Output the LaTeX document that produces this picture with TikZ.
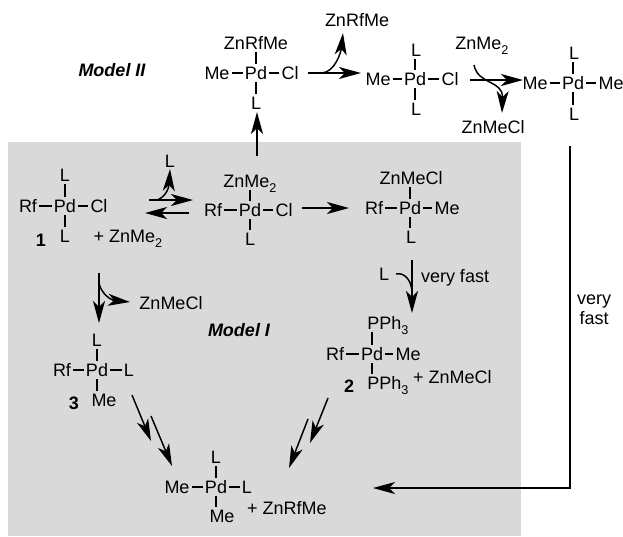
\documentclass[tikz,border=0pt]{standalone}
\usepackage{fontspec}
\setmainfont{Liberation Sans}
\usetikzlibrary{arrows.meta}
\newcommand\lsub[1]{\raisebox{-.3em}{\fontsize{9.5pt}{10pt}\selectfont #1}}
\newcommand\bonds[1]{%
  \draw[bond] (#1l) -- (#1);
  \draw[bond] (#1) -- (#1r);
  \draw[bond] (#1.north) -- (#1.north |- #1t.south);
  \draw[bond] (#1.south) -- (#1.south |- #1b.north);
}
\tikzset{
  atom/.style={inner xsep=1.7pt,inner ysep=2pt,outer sep=0pt,font=\fontsize{13.5pt}{15pt}\selectfont,text height=9.7pt,text depth=0pt},
  txt/.style={atom,inner sep=0pt},
  tagnum/.style={txt,font=\fontsize{13.5pt}{15pt}\selectfont\bfseries},
  modelname/.style={txt,font=\fontsize{13.5pt}{15pt}\selectfont\bfseries\itshape},
  bond/.style={line width=1.2pt},
  rxnline/.style={line width=1.1pt},
  rxn/.style={rxnline,-{Stealth[length=16.5pt,width=9pt,inset=4.5pt]}},
  panel/.style={fill=shade,draw=none}
}
\definecolor{shade}{HTML}{D9D9D9}
\begin{document}
\begin{tikzpicture}[x=0.75pt,y=-0.75pt]
\useasboundingbox (0,0) rectangle (623,536);
\fill[white] (0,0) rectangle (623,536);
\path[panel] (8,142) rectangle (521,536);

% complex 1
\node[atom] (a) at (65,206) {Pd};
\node[atom] (al) at (28,206) {Rf};
\node[atom] (ar) at (99,206) {Cl};
\node[atom] (at) at (65,175) {L};
\node[atom] (ab) at (65,236) {L};
\bonds{a}
\node[tagnum] (n1) at (41,240) {1};
\node[txt] (zm1) at (128,236) {+ ZnMe\lsub{2}};

% ZnMe2 adduct
\node[atom] (b) at (250,210) {Pd};
\node[atom] (bl) at (213,210) {Rf};
\node[atom] (br) at (284,210) {Cl};
\node[atom] (bt) at (250,181) {ZnMe\lsub{2}};
\node[atom] (bb) at (250,239) {L};
\bonds{b}

% ZnMeCl adduct
\node[atom] (c) at (410,208) {Pd};
\node[atom] (cl) at (374,208) {Rf};
\node[atom] (cr) at (447,208) {Me};
\node[atom] (ct) at (411,178) {ZnMeCl};
\node[atom] (cb) at (411,237) {L};
\bonds{c}

% model II, left
\node[atom] (d) at (256,73) {Pd};
\node[atom] (dl) at (217,73) {Me};
\node[atom] (dr) at (290,73) {Cl};
\node[atom] (dt) at (256,43) {ZnRfMe};
\node[atom] (db) at (256,103) {L};
\bonds{d}

% model II, middle
\node[atom] (e) at (415,79) {Pd};
\node[atom] (el) at (378,79) {Me};
\node[atom] (er) at (450,79) {Cl};
\node[atom] (et) at (416,50) {L};
\node[atom] (eb) at (416,109) {L};
\bonds{e}

% model II, right
\node[atom] (f) at (573,83) {Pd};
\node[atom] (fl) at (535,83) {Me};
\node[atom] (fr) at (611,83) {Me};
\node[atom] (ft) at (574,53) {L};
\node[atom] (fb) at (574,114) {L};
\bonds{f}

% complex 3
\node[atom] (g) at (97,370) {Pd};
\node[atom] (gl) at (62,370) {Rf};
\node[atom] (gr) at (129,370) {L};
\node[atom] (gt) at (97,340) {L};
\node[atom] (gb) at (104,400) {Me};
\bonds{g}
\node[tagnum] (n3) at (74,403) {3};

% complex 2
\node[atom] (h) at (372,354) {Pd};
\node[atom] (hl) at (335,354) {Rf};
\node[atom] (hr) at (408,354) {Me};
\node[atom] (ht) at (388,323) {PPh\lsub{3}};
\node[atom] (hb) at (388,383) {PPh\lsub{3}};
\bonds{h}
\node[tagnum] (n2) at (349,386) {2};
\node[txt,anchor=west] (zm2) at (413,377) {+ ZnMeCl};

% product
\node[atom] (k) at (216,487) {Pd};
\node[atom] (kl) at (177,487) {Me};
\node[atom] (kr) at (247,487) {L};
\node[atom] (kt) at (216,457) {L};
\node[atom] (kb) at (222,516) {Me};
\bonds{k}
\node[txt,anchor=west] (zm3) at (247,508) {+ ZnRfMe};

% labels
\node[modelname] (m2) at (112,70) {Model II};
\node[modelname] (m1) at (239,330) {Model I};
\node[txt] (lo1) at (170,161) {L};
\node[txt] (lo2) at (357,20) {ZnRfMe};
\node[txt] (zin) at (482,43) {ZnMe\lsub{2}};
\node[txt] (zout) at (493,127) {ZnMeCl};
\node[txt] (lin) at (384,274) {L};
\node[txt,anchor=west] (vf1) at (421,276) {very fast};
\node[txt] (zout2) at (171,303) {ZnMeCl};
\node[txt] (vf2) at (594,298) {very};
\node[txt] (vf3) at (594,318) {fast};

% arrow ends
\coordinate (p1) at (149,200); \coordinate (p2) at (193,200);
\coordinate (p3) at (189,213); \coordinate (p4) at (145,213);
\coordinate (p5) at (157,200); \coordinate (p6) at (170,169);
\coordinate (p7) at (257,156); \coordinate (p8) at (257,112);
\coordinate (p9) at (302,208); \coordinate (p10) at (349,208);
\coordinate (q1) at (308,73); \coordinate (q2) at (361,73);
\coordinate (q3) at (322,73); \coordinate (q4) at (343,33);
\coordinate (q5) at (470,80); \coordinate (q6) at (523,80);
\coordinate (q7) at (474,65); \coordinate (q8) at (502,113);
\coordinate (r1) at (570,146); \coordinate (r2) at (570,488); \coordinate (r3) at (373,488);
\coordinate (s1) at (412,260); \coordinate (s2) at (412,313);
\coordinate (s3) at (396,274); \coordinate (s4) at (412,293);
\coordinate (t1) at (99,273); \coordinate (t2) at (99,323);
\coordinate (t3) at (99,283); \coordinate (t4) at (130,302);
\coordinate (u1) at (132,395); \coordinate (u2) at (151,441);
\coordinate (u3) at (151,416); \coordinate (u4) at (172,466);
\coordinate (v1) at (328,398); \coordinate (v2) at (310,443);
\coordinate (v3) at (308,419); \coordinate (v4) at (289,468);

% arrows
\draw[rxn] (p1) -- (p2);
\draw[rxn] (p3) -- (p4);
\draw[rxn] (p5) .. controls (166,197) and (169,187) .. (p6);
\draw[rxn] (p7) -- (p8);
\draw[rxn] (p9) -- (p10);
\draw[rxn] (q1) -- (q2);
\draw[rxn] (q3) .. controls (335,72) and (341,52) .. (q4);
\draw[rxn] (q5) -- (q6);
\draw[rxn] (q7) .. controls (478,85) and (503,80) .. (q8);
\draw[rxn] (r1) -- (r2) -- (r3);
\draw[rxn] (s1) -- (s2);
\draw[rxnline] (s3) .. controls (404,272) and (412,280) .. (s4);
\draw[rxn] (t1) -- (t2);
\draw[rxn] (t3) .. controls (101,293) and (110,300) .. (t4);
\draw[rxn] (u1) -- (u2);
\draw[rxn] (u3) -- (u4);
\draw[rxn] (v1) -- (v2);
\draw[rxn] (v3) -- (v4);
\end{tikzpicture}
\end{document}
